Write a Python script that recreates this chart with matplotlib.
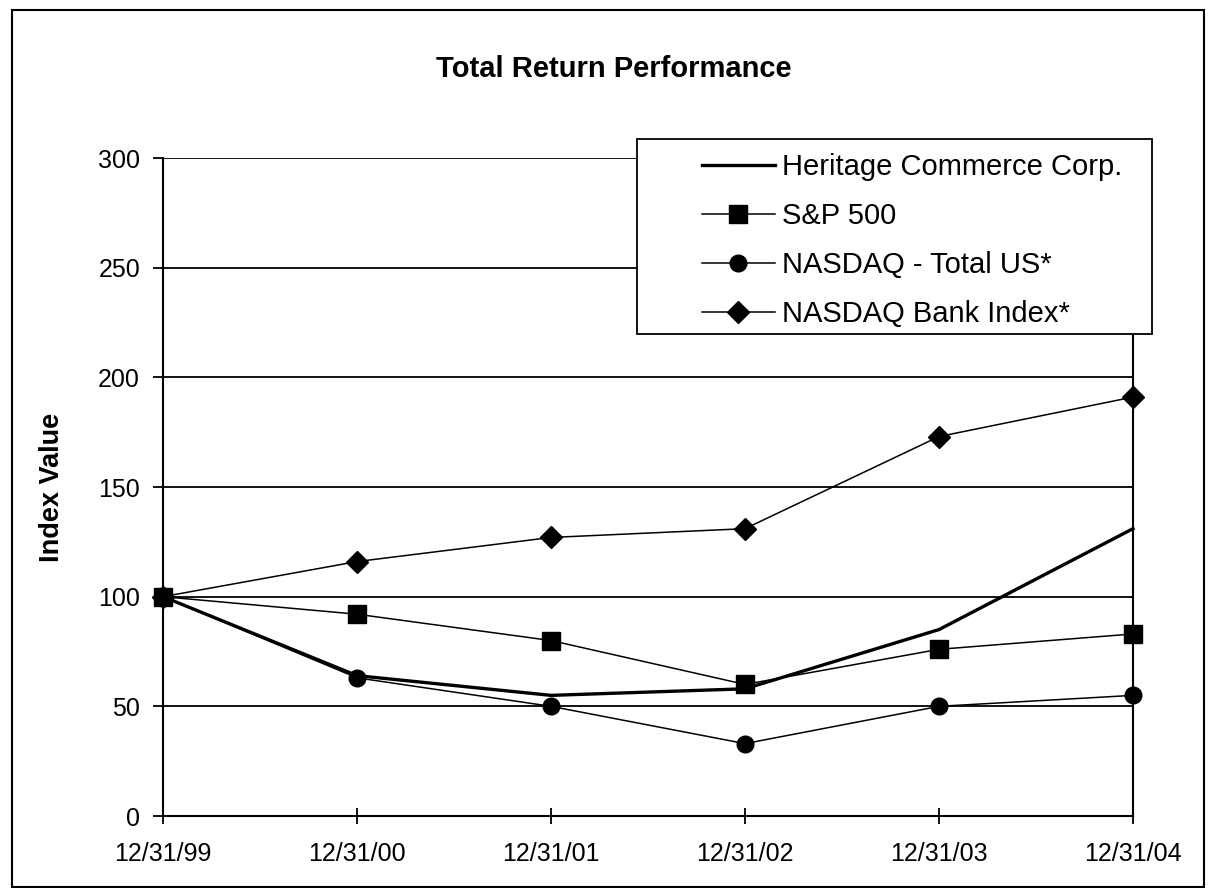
import matplotlib
matplotlib.use("Agg")
import matplotlib.pyplot as plt
from matplotlib.patches import Rectangle

plt.rcParams['font.family'] = ['Liberation Sans', 'DejaVu Sans']

dates = ["12/31/99", "12/31/00", "12/31/01", "12/31/02", "12/31/03", "12/31/04"]
heritage = [100, 64, 55, 58, 85, 131]
sp500 = [100, 92, 80, 60, 76, 83]
nasdaq_total = [100, 63, 50, 33, 50, 55]
nasdaq_bank = [100, 116, 127, 131, 173, 191]
yticks = [0, 50, 100, 150, 200, 250, 300]

W, H = 1209, 888
fig = plt.figure(figsize=(W/100, H/100), dpi=100)
ax = fig.add_axes([163/W, 1-816/H, (1133-163)/W, (816-158)/H])

x = list(range(len(dates)))
ax.plot(x, nasdaq_bank, color='black', lw=1.1, marker='D', ms=11, label='NASDAQ Bank Index*')
ax.plot(x, nasdaq_total, color='black', lw=1.1, marker='o', ms=12, label='NASDAQ - Total US*')
ax.plot(x, sp500, color='black', lw=1.1, marker='s', ms=13.5, label='S&P 500')
ax.plot(x, heritage, color='black', lw=2.4, label='Heritage Commerce Corp.')

ax.set_xlim(0, len(dates)-1)
ax.set_ylim(0, 300)
ax.set_yticks(yticks)
ax.set_xticks(x)
ax.set_xticklabels(dates)
ax.tick_params(axis='both', labelsize=18, width=1.3, color='black')
ax.tick_params(axis='x', direction='inout', length=11, pad=13)
ax.tick_params(axis='y', direction='out', length=7.5, pad=9)
ax.grid(axis='y', color='black', lw=1.3)
ax.set_axisbelow(True)
for s in ['left', 'bottom', 'right']:
    ax.spines[s].set_linewidth(1.5)
    ax.spines[s].set_color('black')
ax.spines['top'].set_visible(False)
for line in ax.get_lines():
    line.set_clip_on(False)

fig.text(52/W, 1-487/H, 'Index Value', fontsize=19.5, fontweight='bold',
         rotation=90, ha='center', va='center')
fig.text(614/W, 1-69/H, 'Total Return Performance', fontsize=21, fontweight='bold',
         ha='center', va='center')

# legend frame
fig.patches.append(Rectangle((637/W, 1-334/H), (1152-637)/W, (334-139)/H,
                             transform=fig.transFigure, facecolor='white',
                             edgecolor='black', lw=1.3, zorder=9))

handles, labels = ax.get_legend_handles_labels()
order = [3, 2, 1, 0]
leg = fig.legend([handles[i] for i in order], [labels[i] for i in order],
                 loc='upper left', bbox_to_anchor=(702/W, 1-153/H),
                 fontsize=21, frameon=False, borderpad=0, borderaxespad=0,
                 handlelength=2.5, handletextpad=0.25, labelspacing=0.72,
                 markerscale=1.0)
leg.set_zorder(10)

fig.patches.append(Rectangle((12/W, 1/H), (1204-12)/W, (878-1)/H,
                             transform=fig.transFigure, fill=False, edgecolor='black', lw=1.5))

fig.savefig('out.png', dpi=100)
